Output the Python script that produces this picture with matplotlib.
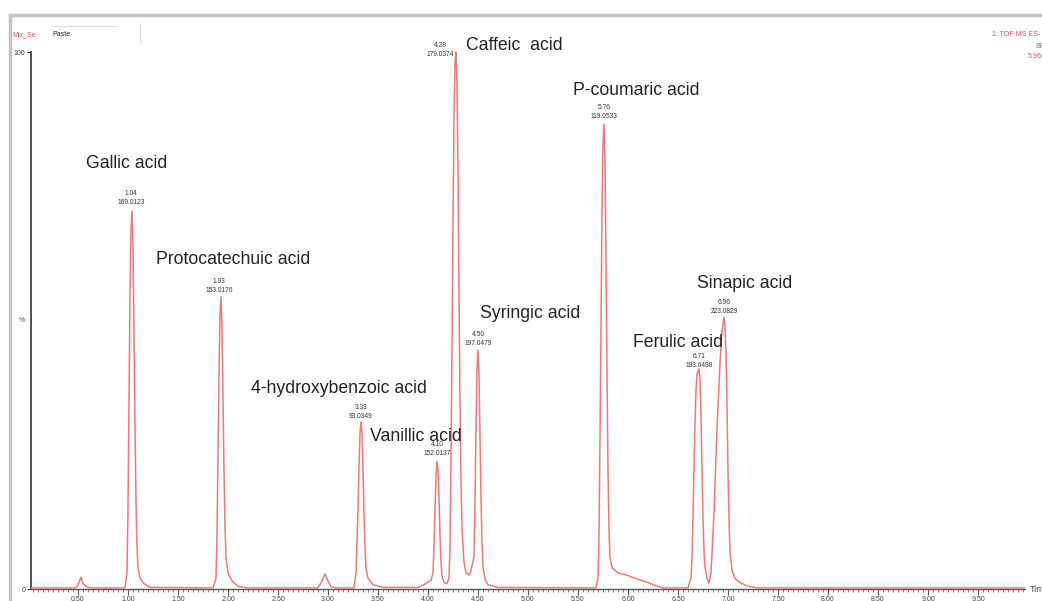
import matplotlib
matplotlib.use("Agg")
import matplotlib.pyplot as plt
from matplotlib.lines import Line2D
from matplotlib.ticker import MultipleLocator, FixedLocator

plt.rcParams['font.family'] = ['Liberation Sans', 'DejaVu Sans']

# ---- data (time in min, intensity in %) ----
time = [0.03, 0.48, 0.51, 0.53, 0.55, 0.58, 0.62,
        0.97, 0.99, 1.00, 1.01, 1.02, 1.03, 1.04, 1.05, 1.06, 1.07, 1.08, 1.09, 1.10, 1.12, 1.16, 1.22,
        1.85, 1.88, 1.89, 1.90, 1.91, 1.92, 1.93, 1.94, 1.95, 1.96, 1.97, 1.98, 2.00, 2.04, 2.10, 2.20,
        2.90, 2.94, 2.97, 3.00, 3.03, 3.08,
        3.26, 3.28, 3.30, 3.31, 3.32, 3.33, 3.34, 3.35, 3.36, 3.37, 3.38, 3.40, 3.45, 3.55,
        3.90, 3.96, 4.00, 4.03, 4.05, 4.06, 4.07, 4.08, 4.09, 4.10, 4.11, 4.12, 4.13, 4.14, 4.16, 4.19,
        4.21, 4.22, 4.23, 4.24, 4.25, 4.26, 4.27, 4.28, 4.29, 4.30, 4.31, 4.32, 4.33, 4.34, 4.36, 4.38, 4.41,
        4.43, 4.46, 4.47, 4.48, 4.49, 4.50, 4.51, 4.52, 4.53, 4.54, 4.55, 4.57, 4.60, 4.70,
        5.68, 5.70, 5.71, 5.72, 5.73, 5.74, 5.75, 5.76, 5.77, 5.78, 5.79, 5.80, 5.81, 5.82, 5.84, 5.90,
        6.00, 6.10, 6.20, 6.28, 6.35,
        6.60, 6.63, 6.64, 6.65, 6.66, 6.67, 6.68, 6.69, 6.70, 6.71, 6.72, 6.73, 6.74, 6.75, 6.76, 6.77, 6.79,
        6.81, 6.83, 6.86, 6.89, 6.92, 6.94, 6.96, 6.97, 6.98, 6.99, 7.00, 7.01, 7.02, 7.04, 7.07, 7.12, 7.20, 7.30,
        9.97]
intensity = [0.2, 0.2, 1.2, 2.2, 1.0, 0.5, 0.2,
             0.2, 3, 15, 35, 55, 67, 70.4, 64, 48, 30, 16, 8, 4, 2, 1, 0.3,
             0.2, 2, 10, 25, 40, 51, 54.4, 49, 36, 22, 12, 6, 3, 1.5, 0.5, 0.2,
             0.2, 1.5, 2.8, 1.5, 0.4, 0.2,
             0.2, 3, 15, 23, 29, 31.1, 29, 22, 14, 8, 4, 2, 0.8, 0.3,
             0.3, 0.8, 1.3, 1.6, 3, 8, 15, 21, 23.8, 22, 17, 10, 5, 2.5, 1.2, 1.0,
             2, 8, 25, 45, 68, 88, 98, 100, 94, 78, 55, 35, 20, 11, 5, 3, 2.6,
             3.5, 6, 16, 30, 41, 44.5, 40, 29, 17, 9, 4, 1.8, 0.8, 0.3,
             0.2, 2, 10, 28, 50, 70, 83, 86.6, 80, 62, 40, 22, 11, 6, 4, 3,
             2.5, 1.8, 1.2, 0.6, 0.2,
             0.2, 2, 6, 14, 23, 31, 37, 40, 40.5, 41, 39, 32, 22, 13, 7, 4, 2,
             1.1, 3, 14, 30, 42, 48, 50.6, 49, 44, 34, 22, 13, 7, 3.5, 2, 1.2, 0.5, 0.2,
             0.2]

compounds = ["Gallic acid", "Protocatechuic acid", "4-hydroxybenzoic acid", "Vanillic acid",
             "Caffeic  acid", "P-coumaric acid", "Syringic acid", "Ferulic acid", "Sinapic acid"]
compound_xy = [(0.58, 79.2), (1.28, 61.3), (2.23, 37.3), (3.42, 28.4),
               (4.38, 101.3), (5.45, 92.9), (4.52, 51.3), (6.05, 45.9), (6.69, 56.9)]

peak_rt = ["1.04", "1.93", "3.33", "4.10", "4.28", "4.50", "5.76", "6.71", "6.96"]
peak_mz = ["169.0123", "153.0176", "93.0349", "152.0137", "179.0374", "197.0479",
           "119.0533", "193.0498", "223.0829"]
peak_label_xy = [(1.03, 71.3), (1.91, 54.9), (3.33, 31.5), (4.09, 24.6), (4.12, 98.9),
                 (4.50, 45.1), (5.76, 87.3), (6.71, 41.0), (6.96, 51.0)]

x_major = [0.5, 1.0, 1.5, 2.0, 2.5, 3.0, 3.5, 4.0, 4.5, 5.0, 5.5, 6.0, 6.5, 7.0, 7.5, 8.0, 8.5, 9.0, 9.5]
x_labels = ["0.50", "1.00", "1.50", "2.00", "2.50", "3.00", "3.50", "4.00", "4.50", "5.00",
            "5.50", "6.00", "6.50", "7.00", "7.50", "8.00", "8.50", "9.00", "9.50"]

# ---- figure ----
W, H = 1042, 601
fig = plt.figure(figsize=(W / 100, H / 100), dpi=100)
fig.patch.set_facecolor("white")

ax = fig.add_axes([31 / W, 12 / H, (1025 - 31) / W, (589 - 30) / H])
ax.set_xlim(0.03, 9.97)
ax.set_ylim(0, 104.1)
ax.patch.set_alpha(0)

ax.plot(time, intensity, color="#f07878", lw=1.1, solid_joinstyle="round", zorder=3)

for s in ["top", "right"]:
    ax.spines[s].set_visible(False)
ax.spines["left"].set_bounds(0, 100)
ax.spines["left"].set_color("#444444")
ax.spines["left"].set_linewidth(1.3)
ax.spines["bottom"].set_color("#555555")
ax.spines["bottom"].set_linewidth(1.0)

ax.xaxis.set_major_locator(FixedLocator(x_major))
ax.set_xticklabels(x_labels)
ax.xaxis.set_minor_locator(MultipleLocator(0.05))
ax.tick_params(axis="x", which="major", length=4, width=0.8, colors="#555555",
               labelsize=5, pad=1, labelcolor="#444444")
ax.tick_params(axis="x", which="minor", length=2.5, width=0.6, colors="#666666")
ax.set_yticks([0, 100])
ax.set_yticklabels(["0", "100"])
ax.tick_params(axis="y", length=3, width=0.8, colors="#444444", labelsize=5, pad=1)

# compound names
for name, (xx, yy) in zip(compounds, compound_xy):
    ax.text(xx, yy, name, fontsize=12.7, color="#222222", ha="left", va="center", zorder=4)

# peak labels
for rt, mz, (xx, yy) in zip(peak_rt, peak_mz, peak_label_xy):
    ax.text(xx, yy, rt + "\n" + mz, fontsize=4.8, color="#333333", ha="center", va="bottom",
            linespacing=1.35, zorder=4)

# ---- frame and header (figure pixel coordinates) ----
def px(x, y):
    return x / W, 1 - y / H

fig.add_artist(Line2D([px(10, 0)[0], 1], [px(0, 15)[1]] * 2, color="#c4c4c4", lw=2.5))
fig.add_artist(Line2D([px(10, 0)[0]] * 2, [px(0, 15)[1], 0], color="#c4c4c4", lw=2.5))
fig.add_artist(Line2D([px(140, 0)[0]] * 2, [px(0, 24)[1], px(0, 42)[1]], color="#dddddd", lw=0.8))
fig.add_artist(Line2D([px(52, 0)[0], px(117, 0)[0]], [px(0, 26)[1]] * 2, color="#dcdcdc", lw=0.8))

fig.text(*px(12, 35), "Mix_Se", fontsize=5, color="#e05050", va="center", ha="left")
fig.text(*px(52, 35), "Paste", fontsize=5, color="#222222", va="center", ha="left")
fig.text(*px(992, 35), "1: TOF MS ES-", fontsize=5, color="#e05050", va="center", ha="left")
fig.text(*px(1035, 46), "BPI", fontsize=5, color="#e05050", va="center", ha="left")
fig.text(*px(1028, 57), "5.96e6", fontsize=5, color="#e05050", va="center", ha="left")
fig.text(*px(22, 320), "%", fontsize=5, color="#555555", va="center", ha="center")
fig.text(*px(1030, 589), "Time", fontsize=6.5, color="#444444", va="center", ha="left")

fig.savefig("out.png", dpi=100, facecolor="white")
